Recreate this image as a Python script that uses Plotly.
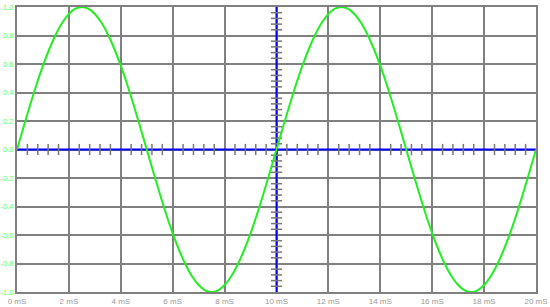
import plotly.graph_objects as go

# time in mS (step 0.25 mS) and signal values
t_ms = [i * 0.25 for i in range(81)]
quarter = [0.0, 0.156, 0.309, 0.454, 0.588, 0.707, 0.809, 0.891, 0.951, 0.988, 1.0]
half_up = quarter + quarter[-2::-1]            # 0..180 deg (21 pts)
period = half_up + [-v for v in half_up[1:]]   # 0..360 deg (41 pts)
signal = period + period[1:]                   # two periods (81 pts)

x_tick_vals = [0, 2, 4, 6, 8, 10, 12, 14, 16, 18, 20]
x_tick_text = ["0 mS", "2 mS", "4 mS", "6 mS", "8 mS", "10 mS", "12 mS", "14 mS", "16 mS", "18 mS", "20 mS"]
y_tick_vals = [1.0, 0.8, 0.6, 0.4, 0.2, 0.0, -0.2, -0.4, -0.6, -0.8, -1.0]
y_tick_text = ["1.0", "0.8", "0.6", "0.4", "0.2", "0.0", "-0.2", "-0.4", "-0.6", "-0.8", "-1.0"]

# minor tick marks on the blue centre axes
x_minor = [round(0.4 * i, 2) for i in range(51) if (i % 5) != 0]
y_minor = [round(-1 + 0.04 * i, 2) for i in range(51) if (i % 5) != 0]

fig = go.Figure()
fig.add_trace(go.Scatter(x=[0, 20], y=[0, 0], mode="lines",
                         line=dict(color="#0000ff", width=2), hoverinfo="skip"))
fig.add_trace(go.Scatter(x=[10, 10], y=[-1, 1], mode="lines",
                         line=dict(color="#0000ff", width=2), hoverinfo="skip"))
fig.add_trace(go.Scatter(x=x_minor, y=[0] * len(x_minor), mode="markers",
                         marker=dict(symbol="line-ns", size=8,
                                     line=dict(color="#777777", width=1.5)),
                         hoverinfo="skip"))
fig.add_trace(go.Scatter(x=[10] * len(y_minor), y=y_minor, mode="markers",
                         marker=dict(symbol="line-ew", size=8,
                                     line=dict(color="#777777", width=1.5)),
                         hoverinfo="skip"))
fig.add_trace(go.Scatter(x=t_ms, y=signal, mode="lines", line_shape="spline",
                         line=dict(color="#22ee22", width=2)))

fig.update_layout(
    width=550, height=307,
    margin=dict(l=17, r=14, t=7, b=15),
    paper_bgcolor="white", plot_bgcolor="white",
    showlegend=False,
    font=dict(family="Liberation Sans, Arial, sans-serif", size=8),
)
fig.update_xaxes(range=[0, 20], tickvals=x_tick_vals, ticktext=x_tick_text,
                 showgrid=True, gridcolor="#808080", gridwidth=2,
                 showline=True, linecolor="#808080", linewidth=2, mirror=True,
                 zeroline=False, ticks="", automargin=False, ticklabelstandoff=0,
                 tickfont=dict(color="#999999", size=8))
fig.update_yaxes(range=[-1, 1], tickvals=y_tick_vals, ticktext=y_tick_text,
                 showgrid=True, gridcolor="#808080", gridwidth=2,
                 showline=True, linecolor="#808080", linewidth=2, mirror=True,
                 zeroline=False, ticks="", ticklabelstandoff=0, automargin=False,
                 tickfont=dict(color="#66ff44", size=7.5))

fig.write_html("out.html")
